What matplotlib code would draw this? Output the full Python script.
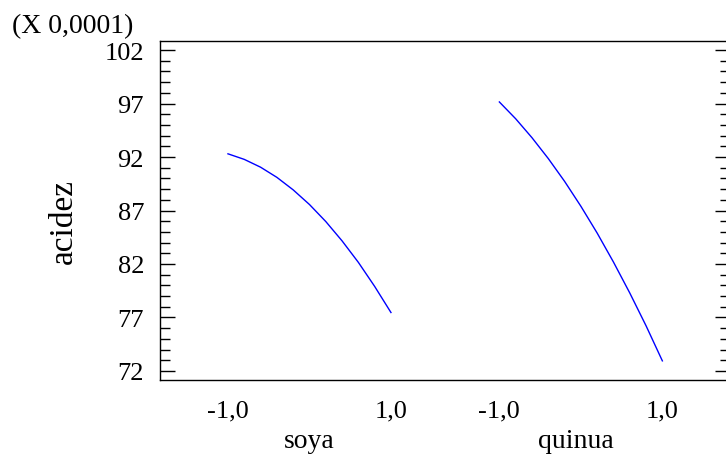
import matplotlib
matplotlib.use("Agg")
import matplotlib.pyplot as plt
from matplotlib.ticker import MultipleLocator, FixedLocator
import numpy as np

# Data (acidez in units of 0.0001)
levels = [-1.0, -0.8, -0.6, -0.4, -0.2, 0.0, 0.2, 0.4, 0.6, 0.8, 1.0]
soya_vals = [92.30, 91.78, 91.05, 90.10, 88.93, 87.56, 85.97, 84.16, 82.15, 79.90, 77.46]
quinua_vals = [97.15, 95.58, 93.81, 91.86, 89.73, 87.40, 84.89, 82.18, 79.29, 76.22, 72.94]
factors = ["soya", "quinua"]
xtick_labels = ["-1,0", "1,0", "-1,0", "1,0"]
ytick_vals = [72, 77, 82, 87, 92, 97, 102]
ytick_labels = ["72", "77", "82", "87", "92", "97", "102"]

plt.rcParams['font.family'] = ['Liberation Serif', 'DejaVu Serif']

fig = plt.figure(figsize=(7.26, 4.60), dpi=100)
W, H = 726, 460
left, right, top, bottom = 160, 730, 42, 381
ax = fig.add_axes([left / W, 1 - bottom / H, (right - left) / W, (bottom - top) / H])

offset = 3.33
lv = np.array(levels)
ax.plot(lv, soya_vals, color='#0000ff', lw=1.0)
ax.plot(lv + offset, quinua_vals, color='#0000ff', lw=1.0)

ax.set_xlim(-1.834, offset + 1 + 0.83)
ax.set_ylim(71.15, 102.85)

ax.xaxis.set_major_locator(FixedLocator([-1, 1, offset - 1, offset + 1]))
ax.set_xticklabels(xtick_labels)
ax.set_yticks(ytick_vals)
ax.set_yticklabels(ytick_labels)
ax.yaxis.set_minor_locator(MultipleLocator(1))

ax.tick_params(axis='x', length=0, labelsize=19, pad=14)
ax.tick_params(axis='y', which='major', direction='in', length=11, width=1,
               labelsize=19, pad=11.5, right=True)
ax.tick_params(axis='y', which='minor', direction='in', length=7, width=1, right=True)

for s in ax.spines.values():
    s.set_linewidth(1.0)

ax.set_ylabel("acidez", fontsize=24)
ax.yaxis.label.set_va('center')
ax.yaxis.set_label_coords((64 - left) / (right - left), 0.5 + (0.5 * (top + bottom) - 222) / (bottom - top))

label_x = [0.0, offset - 0.06]
for f, xc in zip(factors, label_x):
    ax.text(xc, -0.198, f, transform=ax.get_xaxis_transform(), ha='center',
            va='baseline', fontsize=20)

fig.text(12 / W, 1 - 33 / H, "(X 0,0001)", fontsize=20, ha='left', va='baseline')

fig.savefig("out.png", dpi=100)
